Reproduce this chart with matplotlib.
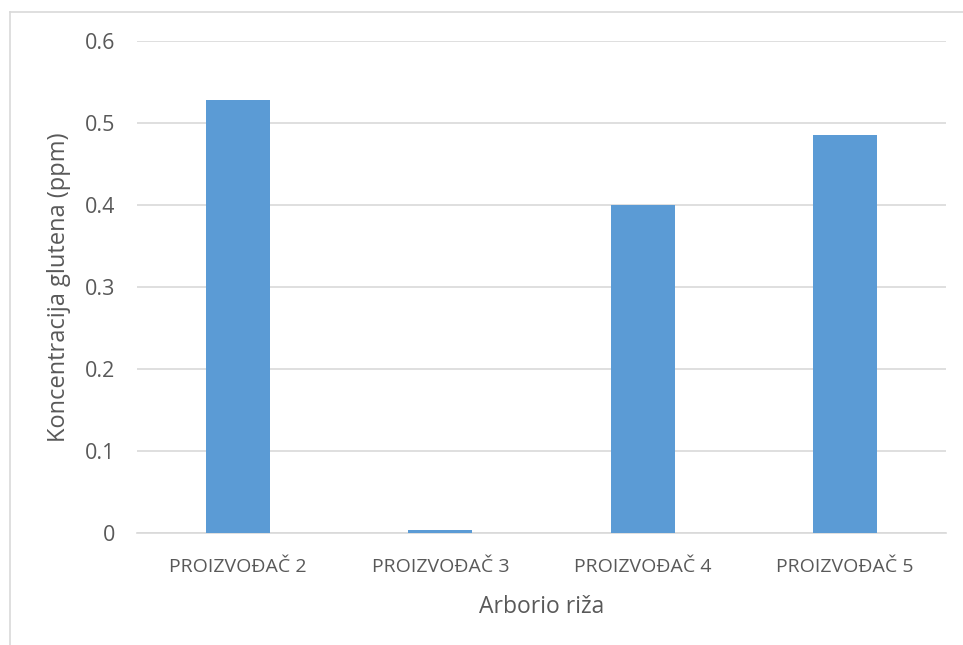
import matplotlib
matplotlib.use("Agg")
import matplotlib.pyplot as plt
from matplotlib.lines import Line2D

categories = ["PROIZVOĐAČ 2", "PROIZVOĐAČ 3", "PROIZVOĐAČ 4", "PROIZVOĐAČ 5"]
values = [0.528, 0.004, 0.400, 0.485]
yticks = [0, 0.1, 0.2, 0.3, 0.4, 0.5, 0.6]
ytick_labels = ["0", "0.1", "0.2", "0.3", "0.4", "0.5", "0.6"]

plt.rcParams['font.family'] = ['Open Sans', 'DejaVu Sans']
txt = "#595959"
grid = "#d9d9d9"

fig = plt.figure(figsize=(9.63, 6.45), dpi=100)
W, H = 963, 645
ax = fig.add_axes([137 / W, 1 - 533 / H, (946 - 137) / W, (533 - 41) / H])

x = list(range(len(categories)))
ax.bar(x, values, width=0.316, color="#5b9bd5", zorder=3)
ax.set_xlim(-0.5, len(categories) - 0.5)
ax.set_ylim(0, 0.6)
ax.set_yticks(yticks)
ax.set_yticklabels(ytick_labels, fontsize=15.5, color=txt)
ax.set_xticks(x)
ax.set_xticklabels(categories, fontsize=14, color=txt)
ax.tick_params(axis='both', length=0)
ax.tick_params(axis='y', pad=16)
ax.tick_params(axis='x', pad=18)
ax.grid(axis='y', color=grid, lw=1.2, zorder=0)
for s in ["top", "right", "left"]:
    ax.spines[s].set_visible(False)
ax.spines["bottom"].set_color(grid)
ax.spines["bottom"].set_linewidth(1.2)
ax.spines["bottom"].set_zorder(2)

ax.set_ylabel("Koncentracija glutena (ppm)", fontsize=17, color=txt, labelpad=10)
ax.set_xlabel("Arborio riža", fontsize=16.5, color=txt, labelpad=14)

# figure border (left and top edges visible)
fig.add_artist(Line2D([10 / W, 10 / W], [0, 1 - 12 / H], transform=fig.transFigure, color=grid, lw=1.2))
fig.add_artist(Line2D([10 / W, 1], [1 - 12 / H, 1 - 12 / H], transform=fig.transFigure, color=grid, lw=1.2))

fig.savefig("out.png", dpi=100)
